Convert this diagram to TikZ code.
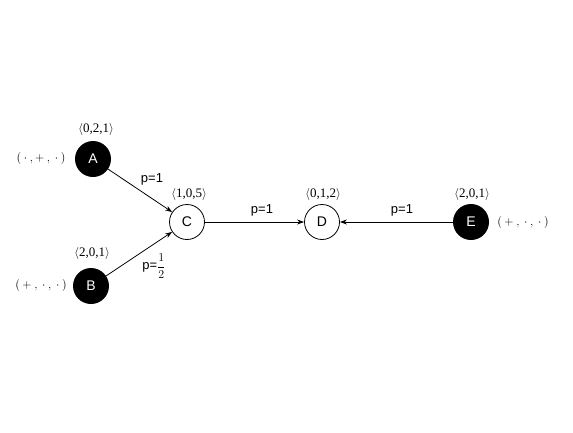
\documentclass[tikz,border=0pt]{standalone}
\usepackage{fontspec}
\setmainfont{Liberation Serif}
\setsansfont{Liberation Sans}
\usetikzlibrary{arrows.meta}

\tikzset{
  blk/.style={circle,fill=black,text=white,minimum size=36pt,inner sep=0pt,font=\sffamily\fontsize{14}{16}\selectfont},
  wht/.style={circle,draw=black,fill=white,minimum size=35pt,inner sep=0pt,line width=0.8pt,font=\sffamily\fontsize{14}{16}\selectfont},
  tri/.style={font=\fontsize{13}{15}\selectfont,inner sep=1pt},
  sgn/.style={font=\fontsize{13}{15}\selectfont,inner sep=1pt},
  prob/.style={font=\sffamily\fontsize{13}{15}\selectfont,inner sep=1pt},
  arc/.style={line width=0.8pt,-{Stealth[length=7pt,width=5pt]}}
}

\begin{document}
\begin{tikzpicture}[x=1pt,y=-1pt]

\useasboundingbox (0,0) rectangle (573,432);

% vertices
\node[blk] (A) at (93,159) {A};
\node[blk] (B) at (91,286) {B};
\node[wht] (C) at (187,222) {C};
\node[wht] (D) at (322,222) {D};
\node[blk] (E) at (471,222) {E};

% triples above the vertices
\node[tri] (tA) at (96,129) {$\langle$0,2,1$\rangle$};
\node[tri] (tB) at (92,253) {$\langle$2,0,1$\rangle$};
\node[tri] (tC) at (189,194) {$\langle$1,0,5$\rangle$};
\node[tri] (tD) at (323,194) {$\langle$0,1,2$\rangle$};
\node[tri] (tE) at (472,194) {$\langle$2,0,1$\rangle$};

% sign patterns
\node[sgn] (sA) at (41,158) {$(\:\cdot\:,+\:,\:\cdot\:)$};
\node[sgn] (sB) at (41,285) {$(\:+\:,\:\cdot\:,\:\cdot\:)$};
\node[sgn] (sE) at (523,222) {$(\:+\:,\:\cdot\:,\:\cdot\:)$};

% arcs
\draw[arc] (A) -- (C);
\draw[arc] (B) -- (C);
\draw[arc] (C) -- (D);
\draw[arc] (E) -- (D);

% probabilities
\node[prob] (pAC) at (152,179) {p=1};
\node[prob] (pBC) at (154,266) {p=$\displaystyle\frac{1}{2}$};
\node[prob] (pCD) at (262,210) {p=1};
\node[prob] (pED) at (402,210) {p=1};

\end{tikzpicture}
\end{document}
